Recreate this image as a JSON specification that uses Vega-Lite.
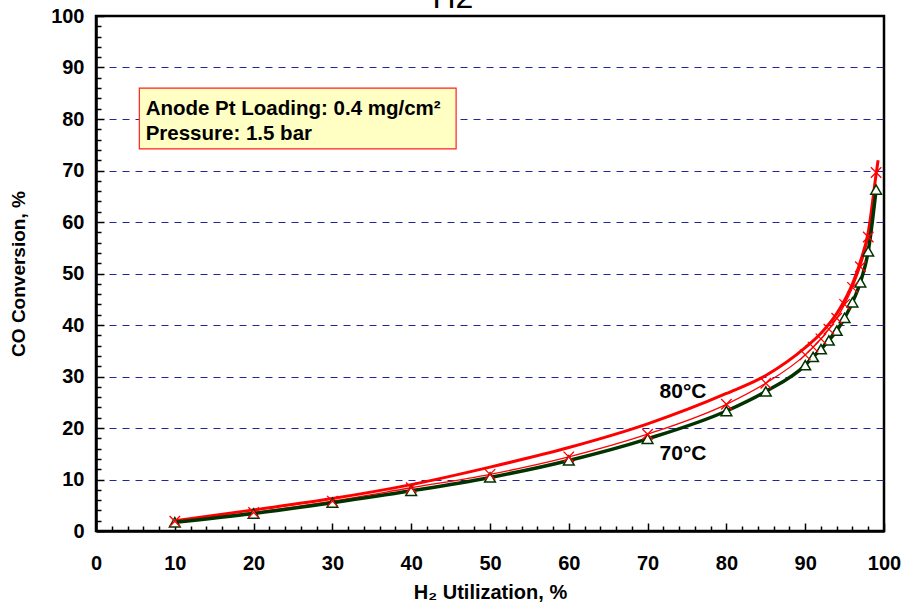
{
  "$schema": "https://vega.github.io/schema/vega-lite/v6.json",
  "width": 788,
  "height": 515,
  "autosize": {"type": "none"},
  "padding": {"left": 96, "top": 16, "right": 17, "bottom": 74},
  "background": "white",
  "config": {"view": {"stroke": "black", "strokeWidth": 2.5}, "font": "Liberation Sans"},
  "datasets": {
    "curves": [
      {"s": "model80", "u": 10, "c": 2.0},
      {"s": "model80", "u": 20, "c": 4.1},
      {"s": "model80", "u": 30, "c": 6.3},
      {"s": "model80", "u": 40, "c": 9.0},
      {"s": "model80", "u": 50, "c": 12.4},
      {"s": "model80", "u": 60, "c": 16.2},
      {"s": "model80", "u": 70, "c": 20.8},
      {"s": "model80", "u": 80, "c": 26.7},
      {"s": "model80", "u": 85, "c": 30.2},
      {"s": "model80", "u": 90, "c": 35.6},
      {"s": "model80", "u": 92, "c": 38.4},
      {"s": "model80", "u": 94, "c": 42.2},
      {"s": "model80", "u": 95, "c": 44.8},
      {"s": "model80", "u": 96, "c": 48.0},
      {"s": "model80", "u": 97, "c": 52.3},
      {"s": "model80", "u": 98, "c": 58.0},
      {"s": "model80", "u": 99, "c": 69.3},
      {"s": "model80", "u": 99.25, "c": 72.0},
      {"s": "data80", "u": 10, "c": 1.9},
      {"s": "data80", "u": 20, "c": 3.6},
      {"s": "data80", "u": 30, "c": 5.8},
      {"s": "data80", "u": 40, "c": 8.4},
      {"s": "data80", "u": 50, "c": 11.0},
      {"s": "data80", "u": 60, "c": 14.4},
      {"s": "data80", "u": 70, "c": 18.8},
      {"s": "data80", "u": 80, "c": 24.6},
      {"s": "data80", "u": 85, "c": 28.7},
      {"s": "data80", "u": 90, "c": 34.2},
      {"s": "data80", "u": 91, "c": 35.7},
      {"s": "data80", "u": 92, "c": 37.3},
      {"s": "data80", "u": 93, "c": 39.2},
      {"s": "data80", "u": 94, "c": 41.3},
      {"s": "data80", "u": 95, "c": 44.0},
      {"s": "data80", "u": 96, "c": 47.3},
      {"s": "data80", "u": 97, "c": 51.3},
      {"s": "data80", "u": 98, "c": 57.1},
      {"s": "data80", "u": 99, "c": 69.6},
      {"s": "data70", "u": 10, "c": 1.7},
      {"s": "data70", "u": 20, "c": 3.4},
      {"s": "data70", "u": 30, "c": 5.5},
      {"s": "data70", "u": 40, "c": 7.8},
      {"s": "data70", "u": 50, "c": 10.4},
      {"s": "data70", "u": 60, "c": 13.7},
      {"s": "data70", "u": 70, "c": 17.9},
      {"s": "data70", "u": 80, "c": 23.3},
      {"s": "data70", "u": 85, "c": 27.1},
      {"s": "data70", "u": 90, "c": 32.2},
      {"s": "data70", "u": 91, "c": 33.8},
      {"s": "data70", "u": 92, "c": 35.3},
      {"s": "data70", "u": 93, "c": 37.0},
      {"s": "data70", "u": 94, "c": 38.9},
      {"s": "data70", "u": 95, "c": 41.4},
      {"s": "data70", "u": 96, "c": 44.4},
      {"s": "data70", "u": 97, "c": 48.3},
      {"s": "data70", "u": 98, "c": 54.3},
      {"s": "data70", "u": 99, "c": 66.3}
    ]
  },
  "data": {"name": "curves"},
  "layer": [
    {
      "transform": [{"filter": "datum.s === 'model80'"}],
      "mark": {"type": "line", "color": "#ff0000", "strokeWidth": 3, "interpolate": "monotone"},
      "encoding": {
        "x": {
          "field": "u", "type": "quantitative",
          "scale": {"domain": [0, 100], "nice": false, "zero": false},
          "axis": {
            "orient": "bottom",
            "values": [0, 10, 20, 30, 40, 50, 60, 70, 80, 90, 100],
            "title": "H₂ Utilization, %",
            "titleFont": "Liberation Sans", "titleFontSize": 20, "titleFontWeight": "bold", "titleColor": "black", "titlePadding": 9,
            "labelFont": "Liberation Sans", "labelFontSize": 20, "labelFontWeight": "bold", "labelColor": "black",
            "labelPadding": 30, "labelFlush": false, "labelOverlap": false,
            "tickSize": -8, "tickColor": "black", "tickWidth": 1.5,
            "domainColor": "black", "domainWidth": 2.5, "grid": false
          }
        },
        "y": {
          "field": "c", "type": "quantitative",
          "scale": {"domain": [0, 100], "nice": false},
          "axis": {
            "orient": "left",
            "values": [0, 10, 20, 30, 40, 50, 60, 70, 80, 90, 100],
            "title": "CO Conversion, %",
            "titleFont": "Liberation Sans", "titleFontSize": 19, "titleFontWeight": "bold", "titleColor": "black", "titlePadding": 22,
            "labelFont": "Liberation Sans", "labelFontSize": 20, "labelFontWeight": "bold", "labelColor": "black",
            "labelPadding": 20, "labelFlush": false, "labelOverlap": false,
            "tickSize": -8, "tickColor": "black", "tickWidth": 1.5,
            "domainColor": "black", "domainWidth": 2.5,
            "grid": true, "gridColor": "#23239a", "gridWidth": 1, "gridDash": [7, 6],
            "gridOpacity": {"condition": {"test": "datum.value === 0 || datum.value === 100", "value": 0}, "value": 1}
          }
        }
      }
    },
    {
      "transform": [{"filter": "datum.s === 'model80'"}],
      "mark": {"type": "point", "opacity": 0},
      "encoding": {
        "x": {
          "field": "u", "type": "quantitative",
          "axis": {
            "orient": "bottom",
            "values": [2, 4, 6, 8, 12, 14, 16, 18, 22, 24, 26, 28, 32, 34, 36, 38, 42, 44, 46, 48, 52, 54, 56, 58, 62, 64, 66, 68, 72, 74, 76, 78, 82, 84, 86, 88, 92, 94, 96, 98],
            "labels": false, "domain": false, "grid": false, "title": null,
            "tickSize": -5, "tickColor": "black", "tickWidth": 1.5
          }
        },
        "y": {
          "field": "c", "type": "quantitative",
          "axis": {
            "orient": "left",
            "values": [2, 4, 6, 8, 12, 14, 16, 18, 22, 24, 26, 28, 32, 34, 36, 38, 42, 44, 46, 48, 52, 54, 56, 58, 62, 64, 66, 68, 72, 74, 76, 78, 82, 84, 86, 88, 92, 94, 96, 98],
            "labels": false, "domain": false, "grid": false, "title": null,
            "tickSize": -5, "tickColor": "black", "tickWidth": 1.5
          }
        }
      }
    },
    {
      "transform": [{"filter": "datum.s === 'data80'"}],
      "mark": {"type": "line", "color": "#ff0000", "strokeWidth": 1.3, "interpolate": "monotone"},
      "encoding": {
        "x": {"field": "u", "type": "quantitative", "axis": null},
        "y": {"field": "c", "type": "quantitative", "axis": null}
      }
    },
    {
      "transform": [{"filter": "datum.s === 'data70'"}],
      "mark": {"type": "line", "color": "#003300", "strokeWidth": 3.5, "interpolate": "monotone"},
      "encoding": {
        "x": {"field": "u", "type": "quantitative", "axis": null},
        "y": {"field": "c", "type": "quantitative", "axis": null}
      }
    },
    {
      "transform": [{"filter": "datum.s === 'data70'"}],
      "mark": {"type": "point", "shape": "triangle-up", "filled": true, "fill": "white", "stroke": "#003300", "strokeWidth": 1.5, "size": 115, "opacity": 1},
      "encoding": {
        "x": {"field": "u", "type": "quantitative", "axis": null},
        "y": {"field": "c", "type": "quantitative", "axis": null}
      }
    },
    {
      "transform": [{"filter": "datum.s === 'data80'"}],
      "mark": {"type": "point", "shape": "M-1,-1L1,1M-1,1L1,-1", "filled": false, "stroke": "#ff0000", "strokeWidth": 1.3, "size": 110, "opacity": 1},
      "encoding": {
        "x": {"field": "u", "type": "quantitative", "axis": null},
        "y": {"field": "c", "type": "quantitative", "axis": null}
      }
    },
    {
      "data": {"values": [{"k": "box"}]},
      "mark": {"type": "rect", "fill": "#ffffc4", "stroke": "#ff2020", "strokeWidth": 1.2},
      "encoding": {
        "x": {"datum": 5.5, "type": "quantitative", "axis": null},
        "x2": {"datum": 45.7},
        "y": {"datum": 86.0, "type": "quantitative", "axis": null},
        "y2": {"datum": 74.2}
      }
    },
    {
      "data": {"values": [
        {"label": "Anode Pt Loading: 0.4 mg/cm²", "px": 6.3, "py": 80.8},
        {"label": "Pressure: 1.5 bar", "px": 6.3, "py": 75.9}
      ]},
      "mark": {"type": "text", "align": "left", "baseline": "alphabetic", "fontSize": 20.5, "fontWeight": "bold", "font": "Liberation Sans", "color": "black"},
      "encoding": {
        "x": {"field": "px", "type": "quantitative", "axis": null},
        "y": {"field": "py", "type": "quantitative", "axis": null},
        "text": {"field": "label"}
      }
    },
    {
      "data": {"values": [
        {"label": "80°C", "px": 74.5, "py": 25.8},
        {"label": "70°C", "px": 74.5, "py": 13.8}
      ]},
      "mark": {"type": "text", "align": "center", "baseline": "alphabetic", "fontSize": 21, "fontWeight": "bold", "font": "Liberation Sans", "color": "black"},
      "encoding": {
        "x": {"field": "px", "type": "quantitative", "axis": null},
        "y": {"field": "py", "type": "quantitative", "axis": null},
        "text": {"field": "label"}
      }
    },
    {
      "data": {"values": [{"label": "H2", "px": 45.3, "py": 101.6}]},
      "mark": {"type": "text", "align": "center", "baseline": "alphabetic", "fontSize": 32, "font": "Liberation Sans", "color": "black"},
      "encoding": {
        "x": {"field": "px", "type": "quantitative", "axis": null},
        "y": {"field": "py", "type": "quantitative", "axis": null},
        "text": {"field": "label"}
      }
    }
  ],
  "resolve": {"axis": {"x": "independent", "y": "independent"}}
}
